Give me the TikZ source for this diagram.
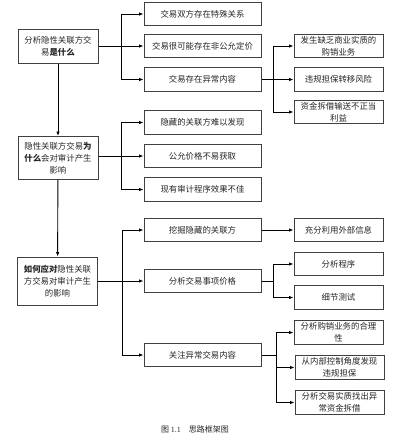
\documentclass[tikz,border=0pt]{standalone}
\usepackage{fontspec}
\setmainfont{Noto Sans CJK SC}
\newfontfamily\capfont{Liberation Serif}
\usetikzlibrary{arrows.meta}
\begin{document}
\begin{tikzpicture}[x=1pt,y=-1pt,
  box/.style={draw=black!75, line width=1pt, fill=white, rectangle, inner sep=1pt,
    align=center, text=black!85, font=\fontsize{8.4}{12}\selectfont},
  cw/.style={minimum width=117pt, minimum height=23.5pt},
  nw/.style={minimum width=89pt, minimum height=23.5pt},
  lw/.style={minimum width=80pt},
  arr/.style={line width=0.9pt, -{Latex[length=4.5pt,width=3.5pt]}},
  ln/.style={line width=0.9pt}]
\useasboundingbox (0,0) rectangle (406,445);
% left column
\node[box,lw,minimum height=34pt] (L1) at (58,46) {分析隐性关联方交\\易\textbf{是什么}};
\node[box,lw,minimum height=43pt] (L2) at (58,158) {隐性关联方交易\textbf{为}\\\textbf{什么}会对审计产生\\影响};
\node[box,lw,minimum height=48pt] (L3) at (57.5,281) {\textbf{如何应对}隐性关联\\方交易对审计产生\\的影响};
% section 1
\node[box,cw] (A1) at (202.5,14) {交易双方存在特殊关系};
\node[box,cw] (A2) at (202.5,46) {交易很可能存在非公允定价};
\node[box,cw] (A3) at (202.5,79.5) {交易存在异常内容};
\node[box,nw] (B1) at (338.5,46) {发生缺乏商业实质的\\购销业务};
\node[box,nw] (B2) at (338.5,79.5) {违规担保转移风险};
\node[box,nw] (B3) at (338.5,112) {资金拆借输送不正当\\利益};
% section 2
\node[box,cw] (C1) at (202.5,122.5) {隐藏的关联方难以发现};
\node[box,cw] (C2) at (202.5,156) {公允价格不易获取};
\node[box,cw] (C3) at (202.5,189.5) {现有审计程序效果不佳};
% section 3
\node[box,cw] (D1) at (202.5,230) {挖掘隐藏的关联方};
\node[box,cw] (D2) at (202.5,281) {分析交易事项价格};
\node[box,cw] (D3) at (202.5,355) {关注异常交易内容};
\node[box,nw] (E1) at (338.5,230) {充分利用外部信息};
\node[box,nw] (E2) at (338.5,264) {分析程序};
\node[box,nw] (E3) at (338.5,297.5) {细节测试};
\node[box,nw] (F1) at (338.5,332.5) {分析购销业务的合理\\性};
\node[box,nw] (F2) at (339.5,367.5) {从内部控制角度发现\\违规担保};
\node[box,nw] (F3) at (339.5,402.5) {分析交易实质找出异\\常资金拆借};
% branch coordinates
\coordinate (b1) at (121,0);
\coordinate (b2) at (122,0);
\coordinate (c1) at (273,0);
\coordinate (c2) at (276,0);
% vertical trunk
\draw[arr] (L1) -- (L2);
\draw[arr] (L2) -- (L3);
% section 1 connectors
\draw[ln] (L1.east |- A2) -- (b1 |- A2);
\foreach \t in {A1,A2,A3} \draw[arr] (b1 |- A2) |- (\t);
\draw[ln] (A3.east) -- (c1 |- A3);
\foreach \t in {B1,B2,B3} \draw[arr] (c1 |- A3) |- (\t);
% section 2
\draw[ln] (L2.east |- C2) -- (b1 |- C2);
\foreach \t in {C1,C2,C3} \draw[arr] (b1 |- C2) |- (\t);
% section 3
\draw[ln] (L3.east |- D2) -- (b2 |- D2);
\foreach \t in {D1,D2,D3} \draw[arr] (b2 |- D2) |- (\t);
\draw[arr] (D1) -- (E1);
\draw[ln] (D2.east) -- (c1 |- D2);
\foreach \t in {E2,E3} \draw[arr] (c1 |- D2) |- (\t);
\draw[ln] (D3.east) -- (c2 |- D3);
\foreach \t in {F1,F2,F3} \draw[arr] (c2 |- D3) |- (\t);
% caption
\node[font=\fontsize{8}{10}\selectfont, text=black!85] (cap) at (195,429) {图 {\capfont 1.1}\quad 思路框架图};
\end{tikzpicture}
\end{document}
